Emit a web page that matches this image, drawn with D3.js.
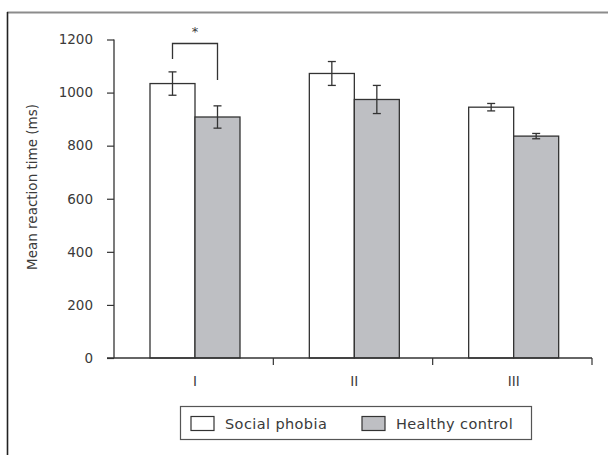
<!DOCTYPE html>
<html><head><meta charset="utf-8">
<script src="https://cdn.jsdelivr.net/npm/d3@7"></script>
<style>
html,body{margin:0;padding:0;background:#fff;}
svg text{font-family:"DejaVu Sans",sans-serif;fill:#3a3a3a;}
</style></head>
<body><svg id="c" width="608" height="455"></svg>
<script>
const categories = ["I","II","III"];
const seriesNames = ["Social phobia","Healthy control"];
const socialPhobia = [1034, 1072, 945];
const socialPhobiaErr = [44, 45, 14];
const healthyControl = [908, 974, 836];
const healthyControlErr = [42, 53, 10];
const yTicks = [0,200,400,600,800,1000,1200];
const colors = ["#ffffff","#bebfc3"];

const svg = d3.select("#c");
// frame lines
svg.append("line").attr("x1",7).attr("x2",608).attr("y1",12.5).attr("y2",12.5).attr("stroke","#8c8c8c").attr("stroke-width",2);
svg.append("line").attr("x1",7.5).attr("x2",7.5).attr("y1",12).attr("y2",455).attr("stroke","#222").attr("stroke-width",1.6);

const y = d3.scaleLinear().domain([0,1200]).range([358,39.5]);
const x = d3.scaleBand().domain(categories).range([114,592]).padding(0);
const xs = d3.scaleBand().domain(seriesNames).range([36,126]).padding(0);

// y axis
const yAxis = svg.append("g").attr("transform","translate(114,0)")
  .call(d3.axisLeft(y).tickValues(yTicks).tickSize(7).tickPadding(14).tickFormat(d3.format("d")));
yAxis.select(".domain").attr("stroke","#333").attr("stroke-width",1.3).attr("d","M0,"+y(1200)+"V"+y(0));
yAxis.selectAll(".tick line").attr("stroke","#333").attr("stroke-width",1.2);
yAxis.selectAll("text").style("font-size","13.5px").attr("fill","#3a3a3a");

// bars
const data = categories.map((c,i)=>({c, vals:[
  {s:seriesNames[0], v:socialPhobia[i], e:socialPhobiaErr[i], col:colors[0]},
  {s:seriesNames[1], v:healthyControl[i], e:healthyControlErr[i], col:colors[1]}]}));
const g = svg.selectAll("g.grp").data(data).enter().append("g").attr("class","grp")
  .attr("transform",d=>`translate(${x(d.c)},0)`);
g.selectAll("rect").data(d=>d.vals).enter().append("rect")
  .attr("x",d=>xs(d.s)).attr("width",xs.bandwidth())
  .attr("y",d=>y(d.v)).attr("height",d=>y(0)-y(d.v))
  .attr("fill",d=>d.col).attr("stroke","#333").attr("stroke-width",1.3);
// error bars
const eb = g.selectAll("g.eb").data(d=>d.vals).enter().append("g").attr("class","eb");
eb.append("line").attr("x1",d=>xs(d.s)+xs.bandwidth()/2).attr("x2",d=>xs(d.s)+xs.bandwidth()/2)
  .attr("y1",d=>y(d.v+d.e)).attr("y2",d=>y(d.v-d.e)).attr("stroke","#333").attr("stroke-width",1.3);
eb.selectAll("line.cap").data(d=>[[d,d.v+d.e],[d,d.v-d.e]]).enter().append("line").attr("class","cap")
  .attr("x1",d=>xs(d[0].s)+xs.bandwidth()/2-4).attr("x2",d=>xs(d[0].s)+xs.bandwidth()/2+4)
  .attr("y1",d=>y(d[1])).attr("y2",d=>y(d[1])).attr("stroke","#333").attr("stroke-width",1.3);

// x axis baseline
svg.append("line").attr("x1",107).attr("x2",592).attr("y1",y(0)).attr("y2",y(0)).attr("stroke","#333").attr("stroke-width",1.3);
const bounds = [x(categories[1]), x(categories[2]), x(categories[2])+x.bandwidth()];
svg.selectAll("line.xt").data(bounds).enter().append("line").attr("class","xt")
  .attr("x1",d=>d).attr("x2",d=>d).attr("y1",y(0)).attr("y2",y(0)+7).attr("stroke","#333").attr("stroke-width",1.2);
svg.selectAll("text.xl").data(categories).enter().append("text").attr("class","xl")
  .attr("x",d=>x(d)+81).attr("y",386).attr("text-anchor","middle").attr("fill","#3a3a3a")
  .style("font-size","13.5px").text(d=>d);

// y axis title
svg.append("text").attr("transform",`translate(37,${187}) rotate(-90)`).attr("text-anchor","middle")
  .style("font-size","13.5px").text("Mean reaction time (ms)");

// significance bracket for group I
const bx1 = x(categories[0])+xs(seriesNames[0])+xs.bandwidth()/2;
const bx2 = x(categories[0])+xs(seriesNames[1])+xs.bandwidth()/2;
svg.append("path").attr("d",`M${bx1},${y(socialPhobia[0]+socialPhobiaErr[0])-13}V43.5H${bx2}V${y(socialPhobia[0]+socialPhobiaErr[0])+8}`)
  .attr("fill","none").attr("stroke","#333").attr("stroke-width",1.3);
svg.append("text").attr("x",(bx1+bx2)/2).attr("y",36).attr("text-anchor","middle").style("font-size","13px").text("*");

// legend
const lg = svg.append("g");
lg.append("rect").attr("x",180.5).attr("y",406.5).attr("width",351).attr("height",33).attr("fill","#fff").attr("stroke","#555").attr("stroke-width",1.2);
const lx = [191, 362];
seriesNames.forEach((s,i)=>{
  lg.append("rect").attr("x",lx[i]).attr("y",416.5).attr("width",23).attr("height",14).attr("fill",colors[i]).attr("stroke","#333").attr("stroke-width",1.2);
  lg.append("text").attr("x",lx[i]+34).attr("y",428.5).style("font-size","14.5px").style("letter-spacing","0.4px").text(s);
});
</script></body></html>
